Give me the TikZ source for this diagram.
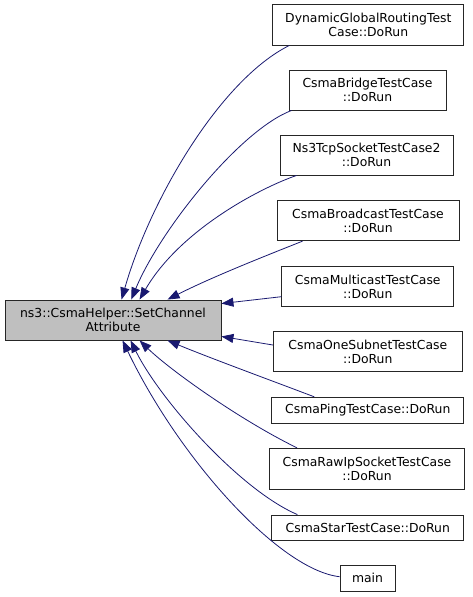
\documentclass[tikz,border=0pt]{standalone}
\usepackage{fontspec}
\setmainfont{DejaVu Sans}
\usetikzlibrary{arrows.meta,calc}
\definecolor{edgeblue}{RGB}{25,25,112}
\definecolor{hilite}{RGB}{191,191,191}
\tikzset{
  fnbox/.style={draw=black!85, line width=0.9pt, fill=white, align=center, inner sep=0pt,
    font=\fontsize{12.4}{14.2}\selectfont},
  callarrow/.style={draw=edgeblue, line width=0.8pt, -{Triangle[length=12pt,width=9pt]}},
}
\begin{document}
\begin{tikzpicture}[x=1pt,y=-1pt]
\useasboundingbox (0,0) rectangle (472,597);
\node[fnbox, fill=hilite, minimum width=216pt, minimum height=40pt] (sc) at (113,320) {ns3::CsmaHelper::SetChannel\\Attribute};
\node[fnbox, minimum width=191pt, minimum height=41pt] (dyn) at (368.3,24.5) {DynamicGlobalRoutingTest\\Case::DoRun};
\node[fnbox, minimum width=157pt, minimum height=40pt] (bridge) at (367.5,90) {CsmaBridgeTestCase\\::DoRun};
\node[fnbox, minimum width=173pt, minimum height=40pt] (tcp) at (366.5,155) {Ns3TcpSocketTestCase2\\::DoRun};
\node[fnbox, minimum width=182pt, minimum height=40pt] (bcast) at (368,220.7) {CsmaBroadcastTestCase\\::DoRun};
\node[fnbox, minimum width=172pt, minimum height=40pt] (mcast) at (367.8,286.7) {CsmaMulticastTestCase\\::DoRun};
\node[fnbox, minimum width=189pt, minimum height=40pt] (onesub) at (367.8,351.7) {CsmaOneSubnetTestCase\\::DoRun};
\node[fnbox, minimum width=192pt, minimum height=26pt] (ping) at (367.8,410.3) {CsmaPingTestCase::DoRun};
\node[fnbox, minimum width=195pt, minimum height=41pt] (rawip) at (367,468.8) {CsmaRawIpSocketTestCase\\::DoRun};
\node[fnbox, minimum width=192pt, minimum height=25pt] (star) at (367.8,527.5) {CsmaStarTestCase::DoRun};
\node[fnbox, minimum width=55pt, minimum height=26pt] (mainfn) at (367.5,578.3) {main};

\draw[callarrow] ([xshift=17pt]dyn.south west) .. controls (220,80) and (150,200) .. ([xshift=117pt]sc.north west);
\draw[callarrow] ([xshift=3pt]bridge.south west) .. controls (240,130) and (160,230) .. ([xshift=126.7pt]sc.north west);
\draw[callarrow] ([xshift=17pt]tcp.south west) .. controls (260,188) and (180,230) .. ([xshift=135pt]sc.north west);
\draw[callarrow] ([xshift=26pt]bcast.south west) .. controls (260,258) and (210,278) .. ([xshift=163pt]sc.north west);
\draw[callarrow] ([yshift=-10pt]mcast.west) -- ([yshift=-4pt]sc.north east);
\draw[callarrow] ([yshift=6.7pt]onesub.west) -- ([yshift=4pt]sc.south east);
\draw[callarrow] ([xshift=43pt]ping.north west) .. controls (270,380) and (210,358) .. ([xshift=163pt]sc.south west);
\draw[callarrow] ([xshift=28pt]rawip.north west) .. controls (240,420) and (170,370) .. ([xshift=135pt]sc.south west);
\draw[callarrow] ([xshift=26pt]star.north west) .. controls (240,490) and (160,400) .. ([xshift=126pt]sc.south west);
\draw[callarrow] ([yshift=1.6pt]mainfn.west) .. controls (280,570) and (180,460) .. ([xshift=118pt]sc.south west);
\end{tikzpicture}
\end{document}
